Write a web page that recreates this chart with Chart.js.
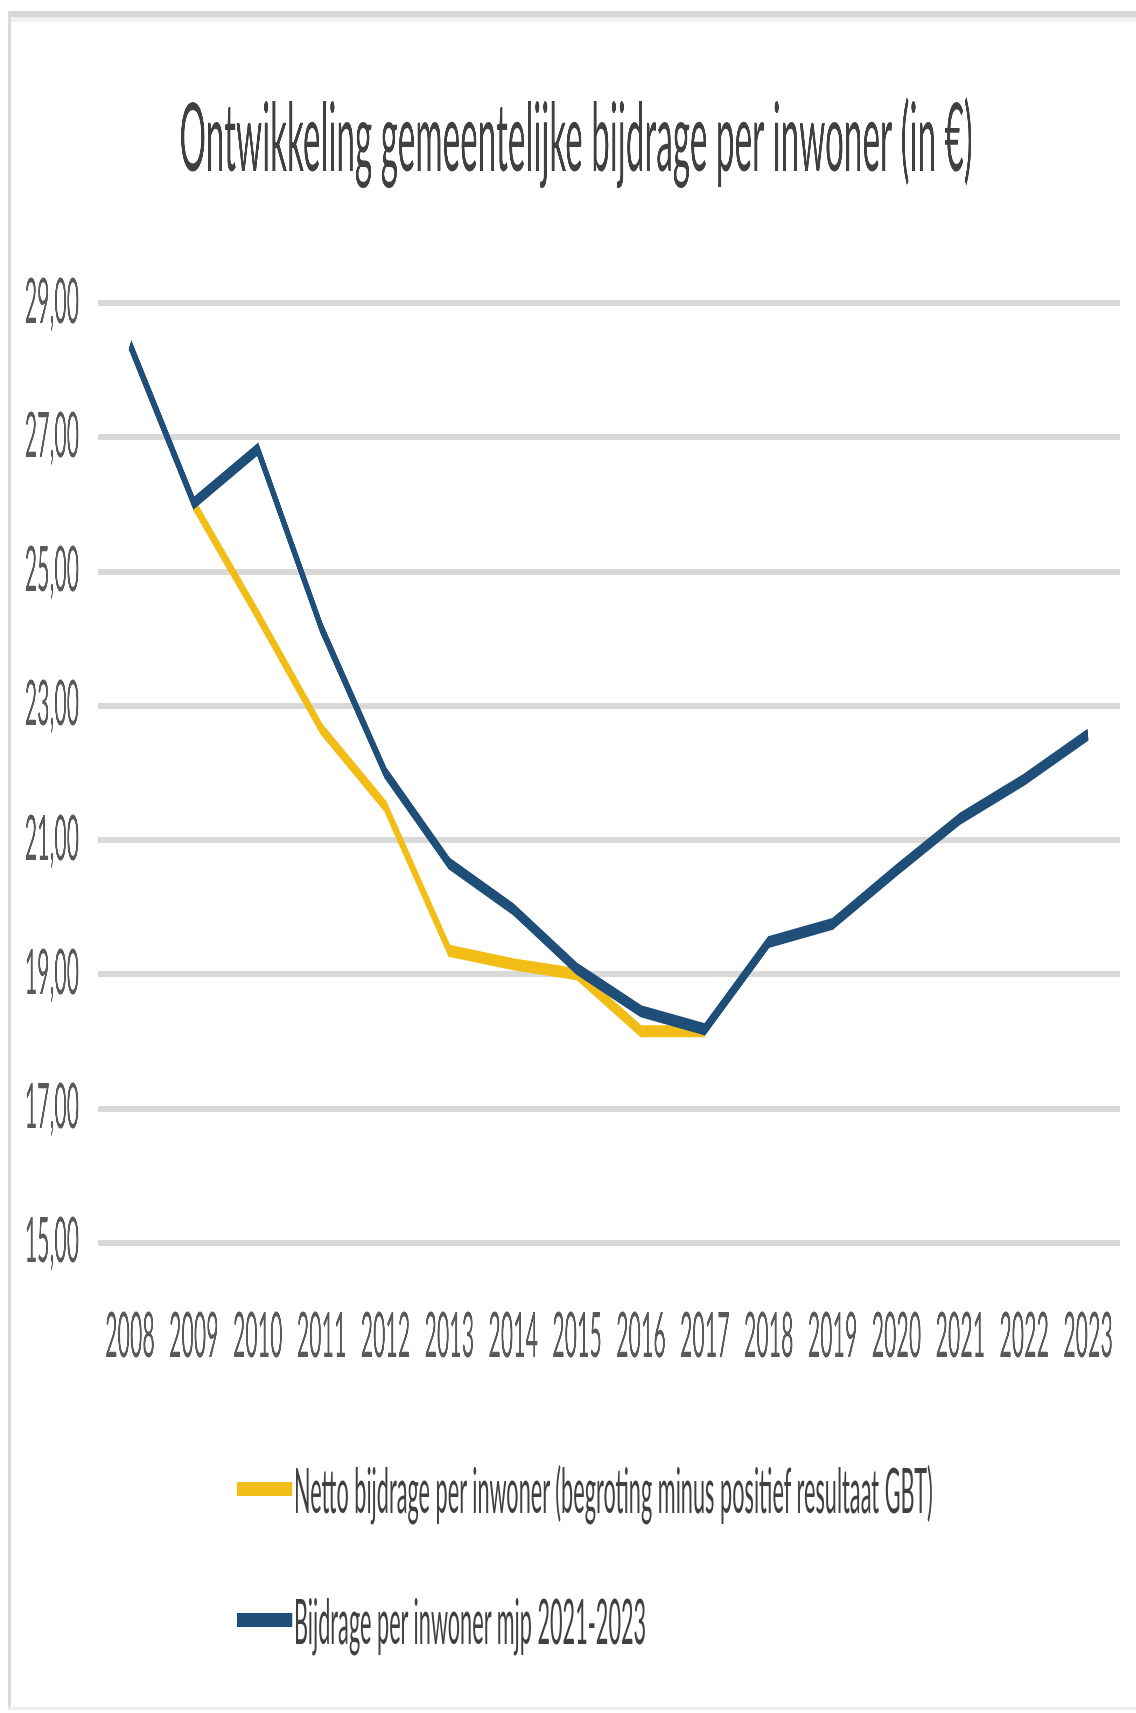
<!DOCTYPE html>
<html>
<head>
<meta charset="utf-8">
<script src="https://cdn.jsdelivr.net/npm/chart.js@4/dist/chart.umd.min.js"></script>
<style>
    html, body {
        margin: 0;
        padding: 0;
        background: #ffffff;
    }
    .page {
        position: relative;
        width: 1136px;
        height: 1713px;
        overflow: hidden;
        background: #ffffff;
    }
    /* frame of the original screenshot */
    .frame-top {
        position: absolute; left: 8px; right: 0; top: 11px; height: 6px;
        background: #d6d6d6;
    }
    .frame-top2 {
        position: absolute; left: 10px; right: 0; top: 17px; height: 5px;
        background: #f1f1f1;
    }
    .frame-left {
        position: absolute; left: 8px; top: 11px; bottom: 4px; width: 3px;
        background: #dadada;
    }
    .frame-bottom {
        position: absolute; left: 8px; right: 0; top: 1707px; height: 3px;
        background: #ececec;
    }
    /* the original image is squeezed horizontally: draw wide, then scale */
    .squeeze {
        position: absolute;
        left: 0;
        top: 0;
        width: 3292px;
        height: 1713px;
        transform: scaleX(0.35);
        transform-origin: 0 0;
    }
    #chart {
        position: absolute;
        left: 0;
        top: 0;
    }
    .legend-item {
        position: absolute;
        left: 677px;
        height: 80px;
        font-family: Lato, "Open Sans", sans-serif;
        font-size: 62px;
        color: #404040;
        white-space: nowrap;
    }
    .legend-item .swatch {
        position: absolute;
        left: 0;
        top: 33px;
        width: 158px;
        height: 14px;
    }
    .legend-item .label {
        position: absolute;
        left: 163px;
        top: 0;
        line-height: 80px;
    }
</style>
</head>
<body>
<div class="page">
    <div class="frame-top"></div>
    <div class="frame-top2"></div>
    <div class="frame-left"></div>
    <div class="frame-bottom"></div>
    <div class="squeeze">
        <canvas id="chart" width="3292" height="1713"></canvas>
        <div class="legend-item" id="legend-netto" style="top: 1449px;">
            <div class="swatch"></div><div class="label"></div>
        </div>
        <div class="legend-item" id="legend-mjp" style="top: 1580px;">
            <div class="swatch"></div><div class="label"></div>
        </div>
    </div>
</div>
<script>
"use strict";

var chartTitle = 'Ontwikkeling gemeentelijke bijdrage per inwoner (in \u20ac)';

var years = ['2008', '2009', '2010', '2011', '2012', '2013', '2014', '2015',
             '2016', '2017', '2018', '2019', '2020', '2021', '2022', '2023'];

var nettoLabel = 'Netto bijdrage per inwoner (begroting minus positief resultaat GBT)';
var nettoValues = [null, 26.00, 24.35, 22.65, 21.50, 19.35, 19.15, 19.00,
                   18.15, 18.15, null, null, null, null, null, null];

var mjpLabel = 'Bijdrage per inwoner mjp 2021-2023';
var mjpValues = [28.38, 26.02, 26.82, 24.15, 22.00, 20.65, 19.97, 19.08,
                 18.45, 18.18, 19.48, 19.75, 20.55, 21.32, 21.90, 22.57];

var yTicks = [15, 17, 19, 21, 23, 25, 27, 29];

var nettoColor = '#f3bd18';
var mjpColor = '#1f4e79';
var fontFamily = 'Lato, "Open Sans", sans-serif';

function formatValue(value) {
    return Number(value).toFixed(2).replace('.', ',');
}

function fillLegend(id, label, color) {
    var item = document.getElementById(id);
    item.querySelector('.swatch').style.background = color;
    item.querySelector('.label').textContent = label;
}

fillLegend('legend-netto', nettoLabel, nettoColor);
fillLegend('legend-mjp', mjpLabel, mjpColor);

var ctx = document.getElementById('chart');

new Chart(ctx, {
    type: 'line',
    data: {
        labels: years,
        datasets: [{
            // first dataset is painted last, so the blue line sits on top
            label: mjpLabel,
            data: mjpValues,
            borderColor: mjpColor,
            backgroundColor: mjpColor,
            borderWidth: 12,
            borderJoinStyle: 'miter',
            pointRadius: 0,
            tension: 0
        }, {
            label: nettoLabel,
            data: nettoValues,
            borderColor: nettoColor,
            backgroundColor: nettoColor,
            borderWidth: 12,
            borderJoinStyle: 'miter',
            pointRadius: 0,
            tension: 0,
            spanGaps: false
        }]
    },
    options: {
        responsive: false,
        maintainAspectRatio: false,
        devicePixelRatio: 1,
        animation: false,
        layout: {
            padding: { top: 0, left: 0, right: 0, bottom: 281 }
        },
        plugins: {
            legend: { display: false },
            tooltip: { enabled: false },
            title: {
                display: true,
                text: chartTitle,
                color: '#404040',
                font: { family: fontFamily, size: 95, weight: 'normal' },
                padding: { top: 83, bottom: 106 }
            }
        },
        scales: {
            x: {
                offset: true,
                grid: { display: false, drawTicks: false },
                border: { display: false },
                ticks: {
                    color: '#595959',
                    font: { family: fontFamily, size: 61 },
                    padding: 58,
                    autoSkip: false,
                    maxRotation: 0
                }
            },
            y: {
                min: 15,
                max: 29,
                afterFit: function (scale) {
                    scale.width = 280;
                },
                afterBuildTicks: function (scale) {
                    scale.ticks = yTicks.map(function (v) { return { value: v }; });
                },
                grid: { color: '#d9d9d9', lineWidth: 6, drawTicks: false },
                border: { display: false },
                ticks: {
                    color: '#595959',
                    font: { family: fontFamily, size: 61 },
                    padding: 54,
                    callback: function (value) {
                        return formatValue(value);
                    }
                }
            },
            // empty strip on the right, keeps the title centred like the original
            yRight: {
                position: 'right',
                afterFit: function (scale) {
                    scale.width = 92;
                },
                grid: { display: false, drawTicks: false },
                border: { display: false },
                ticks: { display: false }
            }
        }
    }
});
</script>
</body>
</html>
